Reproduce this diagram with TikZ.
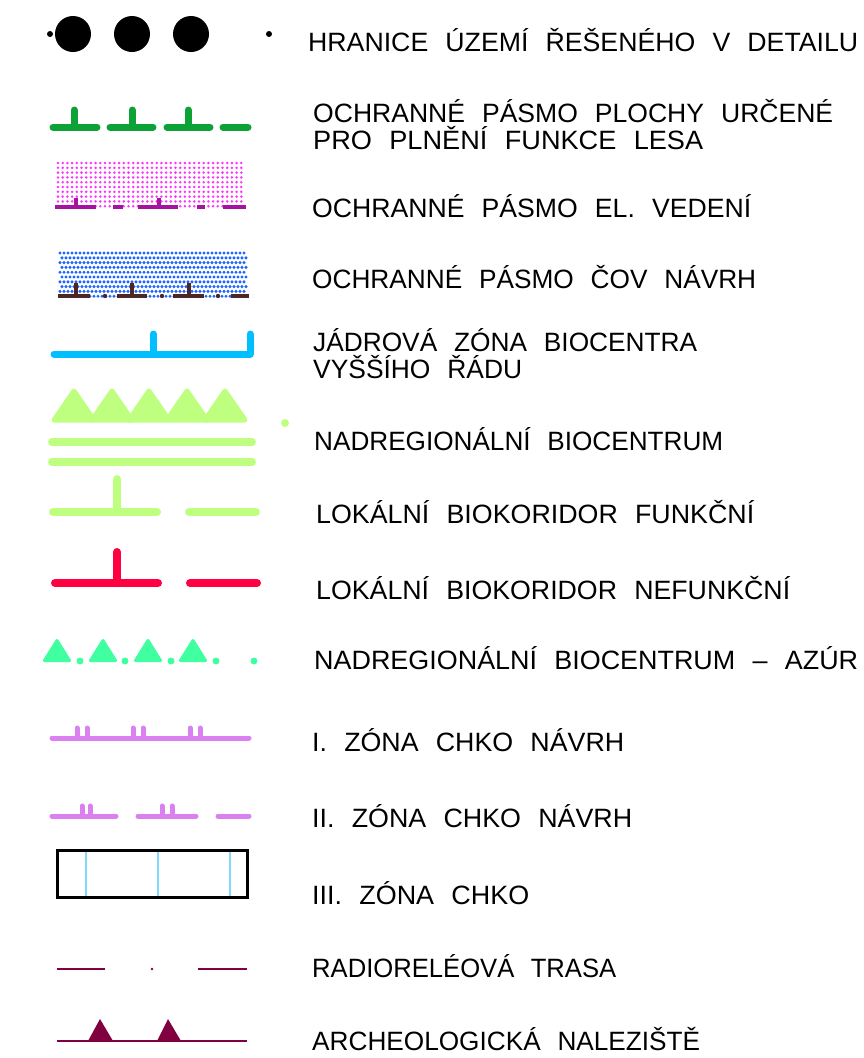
\documentclass[tikz,border=0pt]{standalone}
\usepackage{graphicx}
\usepackage{fontspec}
\setmainfont{Liberation Sans}
\definecolor{cforest}{HTML}{0CA236}
\definecolor{cpinkdot}{HTML}{FF33FF}
\definecolor{cpurple}{HTML}{A3149F}
\definecolor{cbluedot}{HTML}{1E64FF}
\definecolor{cbrown}{HTML}{4D2626}
\definecolor{ccyan}{HTML}{00BFFF}
\definecolor{clgreen}{HTML}{BFFF80}
\definecolor{cred}{HTML}{FF0040}
\definecolor{cmint}{HTML}{40FFA0}
\definecolor{cviolet}{HTML}{DA80F0}
\definecolor{clblue}{HTML}{80D8FF}
\definecolor{cmaroon}{HTML}{800040}
\newlength\lgw
\newcommand\legtext[2]{{\spaceskip=17pt\relax\xspaceskip=17pt\relax
  \settowidth{\lgw}{#2}\pgfmathsetmacro\lgsx{#1/\lgw}\scalebox{\lgsx}[1]{#2}}}
\begin{document}
\begin{tikzpicture}[x=1pt,y=-1pt,
  lab/.style={anchor=base west,inner sep=0pt,font=\fontsize{26.5}{26.5}\selectfont},
  sym/.style={line cap=round,line join=round},
]
\useasboundingbox (0,0) rectangle (863,1058);

% ---------- labels ----------
\node[lab] (t1)  at (308,51)   {\legtext{550}{HRANICE ÚZEMÍ ŘEŠENÉHO V DETAILU}};
\node[lab] (t2a) at (313,122)  {\legtext{520}{OCHRANNÉ PÁSMO PLOCHY URČENÉ}};
\node[lab] (t2b) at (313,149)  {\legtext{390}{PRO PLNĚNÍ FUNKCE LESA}};
\node[lab] (t3)  at (312,217)  {\legtext{439}{OCHRANNÉ PÁSMO EL. VEDENÍ}};
\node[lab] (t4)  at (312,288)  {\legtext{444}{OCHRANNÉ PÁSMO ČOV NÁVRH}};
\node[lab] (t5a) at (313,351)  {\legtext{384}{JÁDROVÁ ZÓNA BIOCENTRA}};
\node[lab] (t5b) at (313,378)  {\legtext{209}{VYŠŠÍHO ŘÁDU}};
\node[lab] (t6)  at (314,450)  {\legtext{409}{NADREGIONÁLNÍ BIOCENTRUM}};
\node[lab] (t7)  at (316,523)  {\legtext{438}{LOKÁLNÍ BIOKORIDOR FUNKČNÍ}};
\node[lab] (t8)  at (316,599)  {\legtext{474}{LOKÁLNÍ BIOKORIDOR NEFUNKČNÍ}};
\node[lab] (t9)  at (314,669)  {\legtext{544}{NADREGIONÁLNÍ BIOCENTRUM – AZÚR}};
\node[lab] (t10) at (312,751)  {\legtext{312}{I. ZÓNA CHKO NÁVRH}};
\node[lab] (t11) at (312,827)  {\legtext{320}{II. ZÓNA CHKO NÁVRH}};
\node[lab] (t12) at (312,904)  {\legtext{217}{III. ZÓNA CHKO}};
\node[lab] (t13) at (312,977)  {\legtext{304}{RADIORELÉOVÁ TRASA}};
\node[lab] (t14) at (312,1050) {\legtext{388}{ARCHEOLOGICKÁ NALEZIŠTĚ}};

% ---------- 1: boundary ----------
\fill (50,34) circle (3pt);
\foreach \cx in {73,132,191} \fill (\cx,34) circle (18pt);
\fill (269,34) circle (3pt);

% ---------- 2: forest protection ----------
\begin{scope}[sym,cforest,line width=7pt]
  \foreach \a/\b/\s in {53/97/74,110/153/132,167/210/188}{
    \draw (\a,127) -- (\b,127);
    \draw (\s,127) -- (\s,110);
  }
  \draw (223,127) -- (248,127);
\end{scope}

% ---------- 3: power line protection ----------
\foreach \r in {0,...,9}{
  \foreach \c in {0,...,39}{
    \fill[cpinkdot] ({58+4.7*\c},{163+4.8*\r}) circle (1.4pt);
  }
}
\begin{scope}[cpurple,line width=3.5pt]
  \draw (55,207) -- (96,207);
  \draw (113,207) -- (123,207);
  \draw (138,207) -- (178,207);
  \draw (197,207) -- (205,207);
  \draw (223,207) -- (246,207);
  \draw (76,207) -- (76,198);
  \draw (159,207) -- (159,198);
\end{scope}

% ---------- 4: WWTP protection ----------
\foreach \r in {0,...,9}{
  \foreach \c in {0,...,46}{
    \fill[cbluedot] ({60+4.0*\c+2*mod(\r,2)},{253+4.8*\r}) circle (1.7pt);
  }
}
\begin{scope}[cbrown,line width=4pt]
  \draw (58,296) -- (90,296);
  \draw (117,296) -- (147,296);
  \draw (173,296) -- (204,296);
  \draw (231,296) -- (249,296);
  \foreach \d in {105,162,218} \fill (\d,296) circle (2.2pt);
  \foreach \s in {76,132,189} \draw (\s,296) -- (\s,283);
\end{scope}

% ---------- 5: core zone ----------
\draw[sym,ccyan,line width=7pt] (54,354) -- (250,354) -- (250,334);
\draw[sym,ccyan,line width=7pt] (153,354) -- (153,334);

% ---------- 6: supra-regional biocentre ----------
\foreach \a in {74,112,149,187,225}{
  \filldraw[clgreen,line width=5pt,line join=round] ({\a-20},420) -- (\a,391) -- ({\a+20},420) -- cycle;
}
\draw[sym,clgreen,line width=8pt] (52,442) -- (252,442);
\draw[sym,clgreen,line width=8pt] (52,462) -- (252,462);
\fill[clgreen] (285,423) circle (4pt);

% ---------- 7: functional corridor ----------
\begin{scope}[sym,clgreen,line width=8pt]
  \draw (53,512) -- (157,512);
  \draw (189,512) -- (256,512);
  \draw (117,512) -- (117,479);
\end{scope}

% ---------- 8: non-functional corridor ----------
\begin{scope}[sym,cred,line width=8pt]
  \draw (55,583) -- (158,583);
  \draw (190,583) -- (257,583);
  \draw (117,583) -- (117,552);
\end{scope}

% ---------- 9: biocentre AZUR ----------
\foreach \a in {57,103,148,193}{
  \filldraw[cmint,line width=3pt,line join=round] ({\a-12.5},660.5) -- (\a,640.5) -- ({\a+12.5},660.5) -- cycle;
}
\foreach \d in {80,125,171,216,254} \fill[cmint] (\d,661) circle (3.5pt);

% ---------- 10: zone I ----------
\begin{scope}[sym,cviolet,line width=5pt]
  \draw (52,738) -- (249,738);
  \foreach \s in {77,87,133,143,190,200} \draw (\s,738) -- (\s,728);
\end{scope}

% ---------- 11: zone II ----------
\begin{scope}[sym,cviolet,line width=5pt]
  \draw (52,816) -- (116,816);
  \draw (138,816) -- (196,816);
  \draw (218,816) -- (249,816);
  \foreach \s in {82,90,162,172} \draw (\s,816) -- (\s,806);
\end{scope}

% ---------- 12: zone III ----------
\foreach \s in {86,158,230} \draw[clblue,line width=2.5pt] (\s,850) -- (\s,897);
\draw[black,line width=3pt] (57,850) rectangle (247,897);

% ---------- 13: radio relay ----------
\begin{scope}[cmaroon,line width=2pt]
  \draw (57,969) -- (105,969);
  \fill (152,969) circle (1.3pt);
  \draw (198,969) -- (247,969);
\end{scope}

% ---------- 14: archaeological sites ----------
\begin{scope}[cmaroon]
  \draw[line width=2.5pt] (57,1041) -- (247,1041);
  \fill (88,1041) -- (100,1019) -- (113,1041) -- cycle;
  \fill (157,1041) -- (168,1019) -- (181,1041) -- cycle;
\end{scope}
\end{tikzpicture}
\end{document}
